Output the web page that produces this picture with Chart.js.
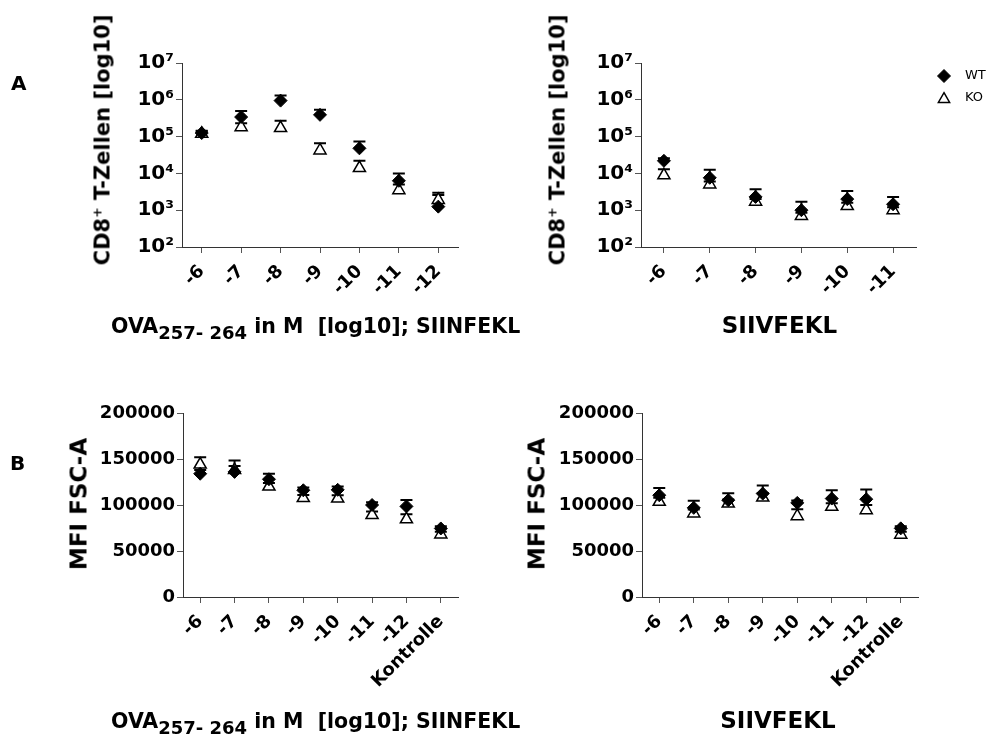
<!DOCTYPE html>
<html>
<head>
<meta charset="utf-8">
<script src="https://cdn.jsdelivr.net/npm/chart.js@4/dist/chart.umd.min.js"></script>
<style>
  html, body { margin: 0; padding: 0; background: #fff; }
  #page { position: relative; width: 991px; height: 735px; overflow: hidden;
          font-family: "DejaVu Sans", sans-serif; color: #000; }
  #page canvas { position: absolute; left: 0; top: 0; }
  .lbl { position: absolute; white-space: nowrap; font-weight: bold; line-height: 1; }
  .ytitle { transform: translate(-50%, -50%) rotate(-90deg); }
  .center { transform: translateX(-50%); }
  .lbl sub { font-size: 18px; vertical-align: -6px; line-height: 0; }
  .lbl sup { font-size: 0.6em; vertical-align: 0.6em; line-height: 0; }
</style>
</head>
<body>
<div id="page">
  <canvas id="cd8Ova" width="991" height="735"></canvas>
  <canvas id="cd8Siiv" width="991" height="735"></canvas>
  <canvas id="mfiOva" width="991" height="735"></canvas>
  <canvas id="mfiSiiv" width="991" height="735"></canvas>

  <div class="lbl" style="left:11px;top:72.7px;font-size:20px;">A</div>
  <div class="lbl" style="left:10px;top:452.7px;font-size:20px;">B</div>

  <div class="lbl ytitle" style="left:103px;top:139.5px;font-size:21px;">CD8<sup>+</sup> T-Zellen [log10]</div>
  <div class="lbl ytitle" style="left:558px;top:139.5px;font-size:21px;">CD8<sup>+</sup> T-Zellen [log10]</div>
  <div class="lbl ytitle" style="left:79px;top:504px;font-size:23px;">MFI FSC-A</div>
  <div class="lbl ytitle" style="left:536.5px;top:504px;font-size:23px;">MFI FSC-A</div>

  <div class="lbl" style="left:111px;top:315.6px;font-size:20.5px;">OVA<sub>257- 264</sub> in M&nbsp; [log10]; SIINFEKL</div>
  <div class="lbl center" style="left:779.5px;top:314.3px;font-size:23px;">SIIVFEKL</div>
  <div class="lbl" style="left:111px;top:710.6px;font-size:20.5px;">OVA<sub>257- 264</sub> in M&nbsp; [log10]; SIINFEKL</div>
  <div class="lbl center" style="left:778px;top:709.3px;font-size:23px;">SIIVFEKL</div>
</div>

<script>
// ---- categories (peptide concentration, log10 M) ----
const dosesSiinfekl = ['-6', '-7', '-8', '-9', '-10', '-11', '-12'];
const dosesSiivfekl = ['-6', '-7', '-8', '-9', '-10', '-11'];
const mfiCategories = ['-6', '-7', '-8', '-9', '-10', '-11', '-12', 'Kontrolle'];

// ---- y tick values and labels ----
const logTicks = [1e2, 1e3, 1e4, 1e5, 1e6, 1e7];
const logTickLabels = ['10²', '10³', '10⁴', '10⁵', '10⁶', '10⁷'];
const mfiTicks = [0, 50000, 100000, 150000, 200000];
const mfiTickLabels = ['0', '50000', '100000', '150000', '200000'];

// ---- CD8+ T cells, SIINFEKL (mean and mean + SEM) ----
const cd8SiinWT     = [125000, 340000, 950000, 390000, 48000, 6300, 1250];
const cd8SiinWTHigh = [145000, 500000, 1300000, 540000, 74000, 10000, 2600];
const cd8SiinKO     = [120000, 180000, 170000, 42000, 14000, 3500, 1900];
const cd8SiinKOHigh = [140000, 230000, 270000, 66000, 22000, 5000, 3000];

// ---- CD8+ T cells, SIIVFEKL ----
const cd8SiivWT     = [22000, 7600, 2300, 1000, 2000, 1450];
const cd8SiivWTHigh = [26000, 12600, 3700, 1700, 3300, 2300];
const cd8SiivKO     = [8900, 5000, 1700, 700, 1300, 1000];
const cd8SiivKOHigh = [13000, 6000, 2000, 850, 1600, 1200];

// ---- MFI FSC-A, SIINFEKL ----
const mfiSiinWT     = [134000, 136000, 128000, 116000, 116500, 100000, 98500, 74500];
const mfiSiinWTHigh = [138000, 148500, 134000, 119000, 120000, 103000, 105500, 77000];
const mfiSiinKO     = [144000, 138000, 120000, 107500, 107000, 89000, 84500, 68000];
const mfiSiinKOHigh = [152000, 142500, 124000, 111000, 110500, 93000, 90000, 71000];

// ---- MFI FSC-A, SIIVFEKL ----
const mfiSiivWT     = [110600, 96900, 105200, 112400, 102300, 107000, 106300, 74600];
const mfiSiivWTHigh = [118600, 104500, 112800, 121100, 105000, 116000, 116800, 77000];
const mfiSiivKO     = [103400, 90800, 101600, 108100, 87900, 98000, 94400, 67700];
const mfiSiivKOHigh = [108000, 95000, 106000, 113000, 95500, 102000, 100000, 71000];

// ---- page geometry ----
const PAGE_W = 991, PAGE_H = 735;
const Y_AXIS_W = 100;   // reserved width of the y axis box
const X_AXIS_H = 110;   // reserved height of the x axis box (room for rotated labels)

const BOLD = 'DejaVu Sans';

// Upper error bars (mean to mean + SEM) with a cap, drawn under the symbols
const errorBars = {
  id: 'errorBars',
  beforeDatasetsDraw(chart) {
    const ctx = chart.ctx;
    const yScale = chart.scales.y;
    ctx.save();
    ctx.strokeStyle = '#000';
    ctx.lineWidth = 2;
    ctx.lineCap = 'butt';
    chart.data.datasets.forEach((ds, di) => {
      const meta = chart.getDatasetMeta(di);
      (ds.errorHigh || []).forEach((hi, i) => {
        const pt = meta.data[i];
        if (!pt || hi == null) return;
        const yTop = yScale.getPixelForValue(hi);
        ctx.beginPath();
        ctx.moveTo(pt.x, pt.y);
        ctx.lineTo(pt.x, yTop);
        ctx.moveTo(pt.x - 6, yTop);
        ctx.lineTo(pt.x + 6, yTop);
        ctx.stroke();
      });
    });
    ctx.restore();
  }
};

// Symbol key (WT / KO) beside the upper right panel
const seriesKey = {
  id: 'seriesKey',
  afterDraw(chart) {
    const ctx = chart.ctx;
    const markerX = 944, textX = 965;
    const markerY = [76, 99.2], textY = [76, 97.5], radius = [6.5, 6.5];
    chart.data.datasets.forEach((ds, i) => {
      ctx.save();
      ctx.fillStyle = ds.pointBackgroundColor;
      ctx.strokeStyle = ds.pointBorderColor;
      ctx.lineWidth = ds.pointBorderWidth;
      Chart.helpers.drawPoint(ctx, {
        pointStyle: ds.pointStyle, radius: radius[i], rotation: 0, borderWidth: ds.pointBorderWidth
      }, markerX, markerY[i]);
      ctx.fillStyle = '#000';
      ctx.font = '13px "DejaVu Sans"';
      ctx.textAlign = 'left';
      ctx.textBaseline = 'middle';
      ctx.fillText(ds.label, textX, textY[i]);
      ctx.restore();
    });
  }
};

function logAxis() {
  return {
    type: 'logarithmic',
    min: logTicks[0],
    max: logTicks[logTicks.length - 1],
    afterBuildTicks(s) { s.ticks = logTicks.map(v => ({ value: v })); },
    afterFit(s) { s.width = Y_AXIS_W; },
    ticks: {
      callback: (v, i) => logTickLabels[i],
      font: { family: BOLD, weight: 'bold', size: 20 },
      color: '#000',
      padding: 2
    },
    grid: { drawOnChartArea: false, tickLength: 6, color: '#555', lineWidth: 1 },
    border: { color: '#333', width: 1 }
  };
}

function mfiAxis() {
  return {
    type: 'linear',
    min: mfiTicks[0],
    max: mfiTicks[mfiTicks.length - 1],
    afterBuildTicks(s) { s.ticks = mfiTicks.map(v => ({ value: v })); },
    afterFit(s) { s.width = Y_AXIS_W; },
    ticks: {
      callback: (v, i) => mfiTickLabels[i],
      font: { family: BOLD, weight: 'bold', size: 18 },
      color: '#000',
      padding: 2
    },
    grid: { drawOnChartArea: false, tickLength: 6, color: '#555', lineWidth: 1 },
    border: { color: '#333', width: 1 }
  };
}

function buildPanel(canvasId, categories, wt, wtHigh, ko, koHigh, yAxis, area, extraPlugins) {
  return new Chart(document.getElementById(canvasId), {
    type: 'line',
    data: {
      labels: categories,
      datasets: [
        {
          label: 'WT', data: wt, errorHigh: wtHigh, showLine: false,
          pointStyle: 'rectRot', pointRadius: 6.5,
          pointBackgroundColor: '#000', pointBorderColor: '#000', pointBorderWidth: 1
        },
        {
          label: 'KO', data: ko, errorHigh: koHigh, showLine: false,
          pointStyle: 'triangle', pointRadius: 7,
          pointBackgroundColor: '#fff', pointBorderColor: '#000', pointBorderWidth: 1.5
        }
      ]
    },
    options: {
      responsive: false,
      animation: false,
      devicePixelRatio: 1,
      events: [],
      layout: {
        padding: {
          left: area.left - Y_AXIS_W,
          right: PAGE_W - area.right,
          top: area.top,
          bottom: PAGE_H - area.bottom - X_AXIS_H
        }
      },
      plugins: { legend: { display: false }, tooltip: { enabled: false } },
      scales: {
        x: {
          type: 'category',
          offset: true,
          afterFit(s) { s.height = X_AXIS_H; },
          ticks: {
            autoSkip: false, maxRotation: 45, minRotation: 45,
            font: { family: BOLD, weight: 'bold', size: 18 },
            color: '#000', padding: 8
          },
          grid: { offset: false, drawOnChartArea: false, tickLength: 6, color: '#555', lineWidth: 1 },
          border: { color: '#333', width: 1 }
        },
        y: yAxis
      }
    },
    plugins: [errorBars].concat(extraPlugins || [])
  });
}

buildPanel('cd8Ova', dosesSiinfekl, cd8SiinWT, cd8SiinWTHigh, cd8SiinKO, cd8SiinKOHigh,
  logAxis(), { left: 182, right: 458, top: 63, bottom: 247 });
buildPanel('cd8Siiv', dosesSiivfekl, cd8SiivWT, cd8SiivWTHigh, cd8SiivKO, cd8SiivKOHigh,
  logAxis(), { left: 641, right: 916, top: 63, bottom: 247 }, [seriesKey]);
buildPanel('mfiOva', mfiCategories, mfiSiinWT, mfiSiinWTHigh, mfiSiinKO, mfiSiinKOHigh,
  mfiAxis(), { left: 183, right: 458, top: 413, bottom: 597 });
buildPanel('mfiSiiv', mfiCategories, mfiSiivWT, mfiSiivWTHigh, mfiSiivKO, mfiSiivKOHigh,
  mfiAxis(), { left: 642, right: 918, top: 413, bottom: 597 });
</script>
</body>
</html>
